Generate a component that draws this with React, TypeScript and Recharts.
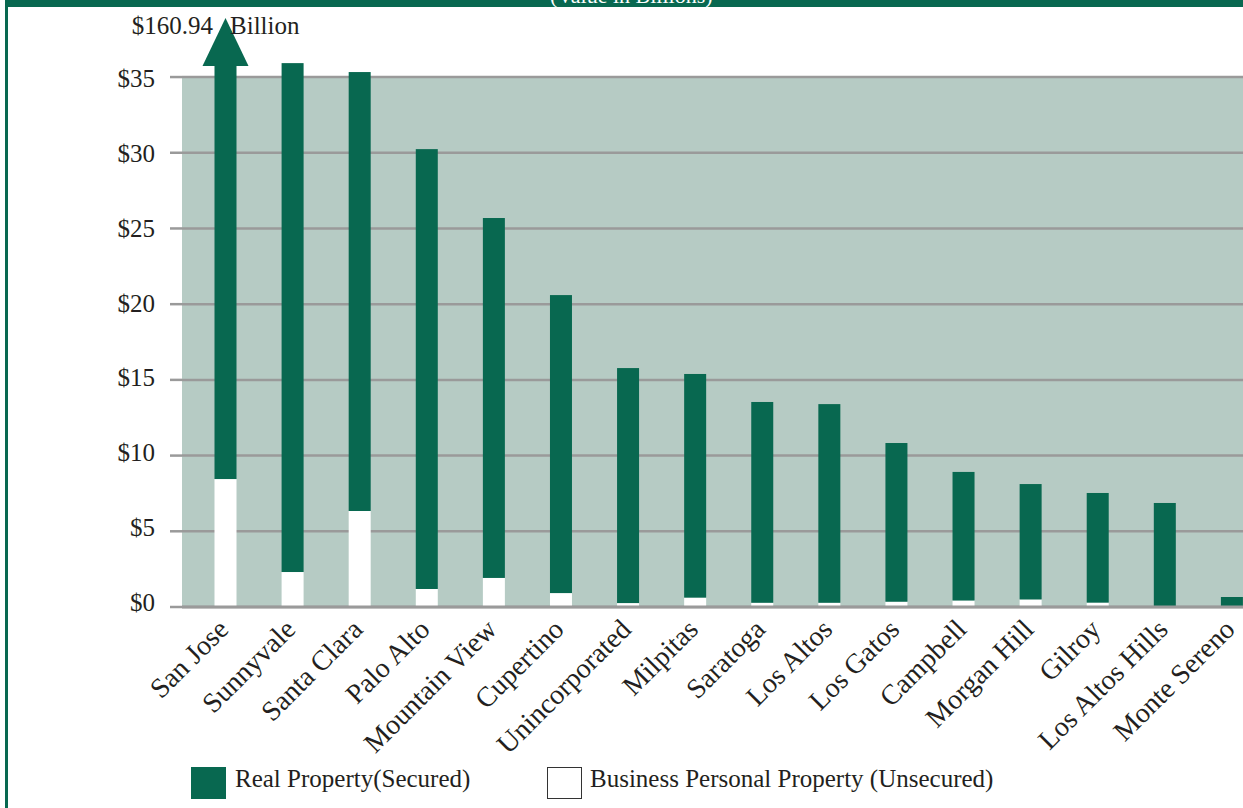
import React from 'react';
import { BarChart, Bar, XAxis, YAxis, CartesianGrid, Legend, ReferenceDot } from 'recharts';

const cities = [
  'San Jose', 'Sunnyvale', 'Santa Clara', 'Palo Alto', 'Mountain View', 'Cupertino',
  'Unincorporated', 'Milpitas', 'Saratoga', 'Los Altos', 'Los Gatos', 'Campbell',
  'Morgan Hill', 'Gilroy', 'Los Altos Hills', 'Monte Sereno',
];
const realProperty = [152.49, 33.61, 28.99, 29.05, 23.77, 19.68, 15.52, 14.77, 13.26, 13.12, 10.48, 8.49, 7.62, 7.24, 6.83, 0.64];
const businessProperty = [8.45, 2.31, 6.34, 1.19, 1.92, 0.92, 0.26, 0.62, 0.28, 0.28, 0.35, 0.43, 0.5, 0.29, 0.04, 0.02];
const yTicks = [0, 5, 10, 15, 20, 25, 30, 35];
const seriesNames = { real: 'Real Property(Secured)', bpp: 'Business Personal Property (Unsecured)' };
const titleText = '(Value in Billions)';
const Y_MAX = 38.9;

const GREEN = '#086850';
const BG = '#b6cbc4';
const GRID = '#9a9a9a';
const TEXT = '#231f20';
const FONT = '"Liberation Serif", "Times New Roman", serif';

const data = cities.map((city, i) => ({ city, real: realProperty[i], bpp: businessProperty[i] }));
const overflowRows = data.filter((d) => d.real + d.bpp > Y_MAX);

const RealShape = (props: any) => {
  const { x, y, width, height, payload, background, fill } = props;
  const total = payload.real + payload.bpp;
  if (total <= Y_MAX) return <rect x={x} y={y} width={width} height={height} fill={fill} />;
  const bottom = y + height;
  const top =
    background && typeof background.y === 'number'
      ? background.y
      : bottom - (Y_MAX - payload.bpp) * (height / payload.real);
  const headH = 48;
  const headHalf = 23;
  const cx = x + width / 2;
  return (
    <g fill={fill}>
      <rect x={x} y={top + headH - 1} width={width} height={bottom - top - headH + 1} />
      <polygon points={`${cx},${top} ${cx - headHalf},${top + headH} ${cx + headHalf},${top + headH}`} />
    </g>
  );
};

const XTick = (props: any) => {
  const { x, y, payload } = props;
  const tx = x + 5;
  const ty = y + 24;
  return (
    <text x={tx} y={ty} transform={`rotate(-45 ${tx} ${ty})`} textAnchor="end" fontSize={28} fontFamily={FONT} fill={TEXT}>
      {payload.value}
    </text>
  );
};

const YTick = (props: any) => {
  const { x, y, payload } = props;
  return (
    <text x={x} y={y + 4 + payload.value * 0.17} textAnchor="end" fontSize={25} fontFamily={FONT} fill={TEXT}>
      {`$${payload.value}`}
    </text>
  );
};

const OverflowLabel = (row: any) => (p: any) => {
  const cx = p.cx;
  const cy = p.cy;
  const total = (row.real + row.bpp).toFixed(2);
  return (
    <g fontSize={25} fontFamily={FONT} fill={TEXT}>
      <text x={cx - 12} y={cy + 16} textAnchor="end">{`$${total}`}</text>
      <text x={cx + 5} y={cy + 16} textAnchor="start">Billion</text>
    </g>
  );
};

const gridCoords = (props: any) => {
  const scale = props?.yAxis?.scale;
  if (!scale) return [];
  const fn = typeof scale === 'function' ? scale : scale.map ? (v: number) => scale.map(v) : null;
  return fn ? yTicks.map((t) => fn(t)) : [];
};

const renderLegend = (props: any) => {
  const payload = props.payload || [];
  const ordered = ['real', 'bpp']
    .map((k) => payload.find((p: any) => p.dataKey === k))
    .filter(Boolean);
  const lefts = [191, 547];
  return (
    <div style={{ position: 'relative', width: 1243, height: 40 }}>
      {ordered.map((item: any, i: number) => {
        const isWhite = item.dataKey === 'bpp';
        return (
          <div key={i} style={{ position: 'absolute', left: lefts[i], top: 0, height: 32 }}>
            <div
              style={{
                position: 'absolute',
                left: 0,
                top: 0,
                width: 35,
                height: 32,
                boxSizing: 'border-box',
                background: isWhite ? '#ffffff' : GREEN,
                border: isWhite ? '1.5px solid #333' : 'none',
              }}
            />
            <div
              style={{
                position: 'absolute',
                left: isWhite ? 43 : 44,
                top: -4,
                whiteSpace: 'nowrap',
                fontFamily: FONT,
                fontSize: 25,
                lineHeight: '32px',
                color: TEXT,
              }}
            >
              {item.value}
            </div>
          </div>
        );
      })}
    </div>
  );
};

export default function App() {
  return (
    <div style={{ position: 'absolute', left: 0, top: 0, width: 1243, height: 808, overflow: 'hidden', background: '#fff' }}>
      <div style={{ position: 'absolute', left: 0, top: 0 }}>
        <BarChart width={1270} height={808} data={data} margin={{ top: 18, right: 5, left: 0, bottom: 51 }}>
          <CartesianGrid
            vertical={false}
            stroke={GRID}
            strokeWidth={2.5}
            horizontalCoordinatesGenerator={gridCoords}
            horizontalFill={['none', BG, BG, BG, BG, BG, BG, BG, BG]}
          />
          <XAxis
            dataKey="city"
            interval={0}
            tickLine={false}
            tickSize={0}
            tickMargin={0}
            axisLine={{ stroke: GRID, strokeWidth: 3 }}
            padding={{ left: 9.5, right: 0 }}
            height={150}
            tick={<XTick />}
          />
          <YAxis
            width={182}
            domain={[0, Y_MAX]}
            allowDataOverflow
            ticks={yTicks}
            axisLine={false}
            tickLine={{ stroke: GRID, strokeWidth: 2.5 }}
            tickSize={12}
            tickMargin={15}
            tick={<YTick />}
          />
          <Legend
            verticalAlign="middle"
            align="center"
            layout="horizontal"
            wrapperStyle={{ left: 0, top: 767, width: 1243, height: 40 }}
            content={renderLegend}
          />
          <Bar dataKey="bpp" name={seriesNames.bpp} stackId="s" fill="#ffffff" barSize={22} isAnimationActive={false} />
          <Bar dataKey="real" name={seriesNames.real} stackId="s" fill={GREEN} barSize={22} isAnimationActive={false} shape={RealShape} />
          {overflowRows.map((row) => (
            <ReferenceDot
              key={row.city}
              x={row.city}
              y={Y_MAX}
              r={3}
              ifOverflow="visible"
              shape={OverflowLabel(row)}
            />
          ))}
        </BarChart>
      </div>
      <div style={{ position: 'absolute', left: 5, top: 0, width: 3, height: 808, background: GREEN }} />
      <div style={{ position: 'absolute', left: 5, top: 0, width: 1238, height: 7, background: GREEN, overflow: 'hidden' }}>
        <div
          style={{
            position: 'absolute',
            left: 545,
            top: -17,
            whiteSpace: 'nowrap',
            fontFamily: FONT,
            fontSize: 22,
            lineHeight: '26px',
            color: '#ffffff',
          }}
        >
          {titleText}
        </div>
      </div>
    </div>
  );
}
